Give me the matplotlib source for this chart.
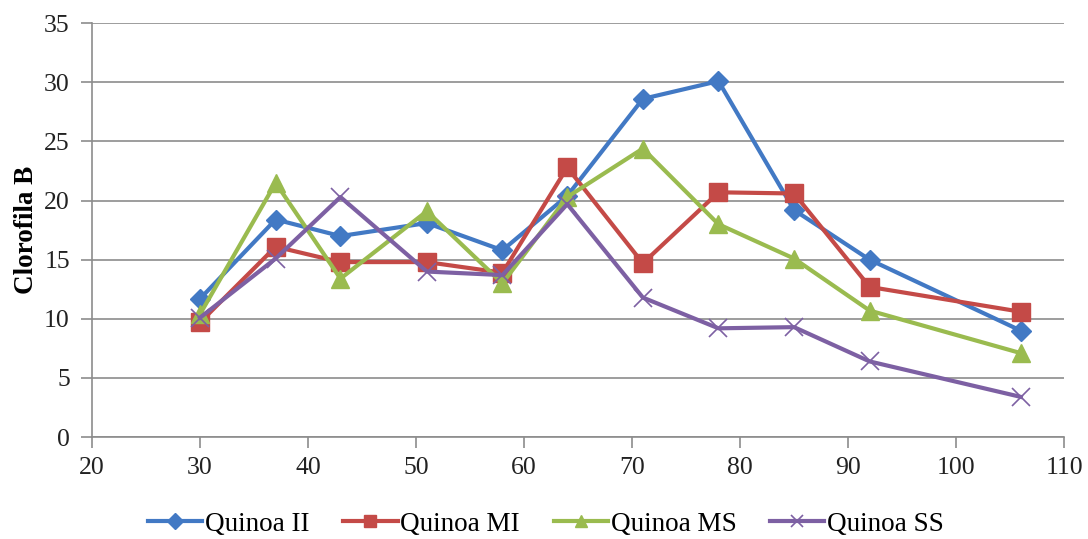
import matplotlib.pyplot as plt

# dias após semeadura e valores de clorofila B por tratamento
dias = [30, 37, 43, 51, 58, 64, 71, 78, 85, 92, 106]
quinoa_ii = [11.7, 18.4, 17.0, 18.1, 15.8, 20.4, 28.6, 30.1, 19.2, 15.0, 9.0]
quinoa_mi = [9.7, 16.1, 14.8, 14.8, 13.9, 22.8, 14.7, 20.7, 20.6, 12.7, 10.6]
quinoa_ms = [10.4, 21.5, 13.4, 19.1, 13.0, 20.3, 24.4, 18.0, 15.1, 10.7, 7.1]
quinoa_ss = [10.1, 15.1, 20.3, 14.0, 13.7, 19.7, 11.8, 9.2, 9.3, 6.4, 3.4]

plt.rcParams['font.family'] = ['Liberation Serif', 'DejaVu Serif']

fig = plt.figure(figsize=(10.88, 5.39), dpi=100)
ax = fig.add_axes([0.0846, 0.189, 0.8934, 0.768])

ax.plot(dias, quinoa_ii, color='#4279c4', lw=3.0, marker='D', ms=10, label='Quinoa II', zorder=3)
ax.plot(dias, quinoa_mi, color='#c44a47', lw=3.0, marker='s', ms=13, label='Quinoa MI', zorder=3)
ax.plot(dias, quinoa_ms, color='#9abb4f', lw=3.0, marker='^', ms=13, label='Quinoa MS', zorder=3)
ax.plot(dias, quinoa_ss, color='#7d60a3', lw=3.0, marker='x', ms=13, mew=1.2, label='Quinoa SS', zorder=3)

ax.set_xlim(20, 110)
ax.set_ylim(0, 35)
ax.set_xticks(range(20, 111, 10))
ax.set_yticks(range(0, 36, 5))
ax.grid(axis='y', color='#8c8c8c', lw=1.2)
ax.set_axisbelow(True)

for s in ['top', 'right']:
    ax.spines[s].set_visible(False)
for s in ['left', 'bottom']:
    ax.spines[s].set_color('#8c8c8c')
    ax.spines[s].set_linewidth(1.2)
ax.tick_params(colors='#8c8c8c', labelcolor='#222222', labelsize=18.5, length=8, width=1.2)
ax.tick_params(axis='y', pad=8)
ax.tick_params(axis='x', pad=6)

ax.set_ylabel('Clorofila B', fontsize=19.5, fontweight='bold', labelpad=4)

leg = ax.legend(loc='center', bbox_to_anchor=(0.467, -0.21), ncol=4, frameon=False,
                fontsize=19.5, handlelength=2.0, handletextpad=0.1, columnspacing=1.25)
for h in leg.legend_handles:
    h.set_markersize(8)

fig.savefig('out.png', dpi=100)
